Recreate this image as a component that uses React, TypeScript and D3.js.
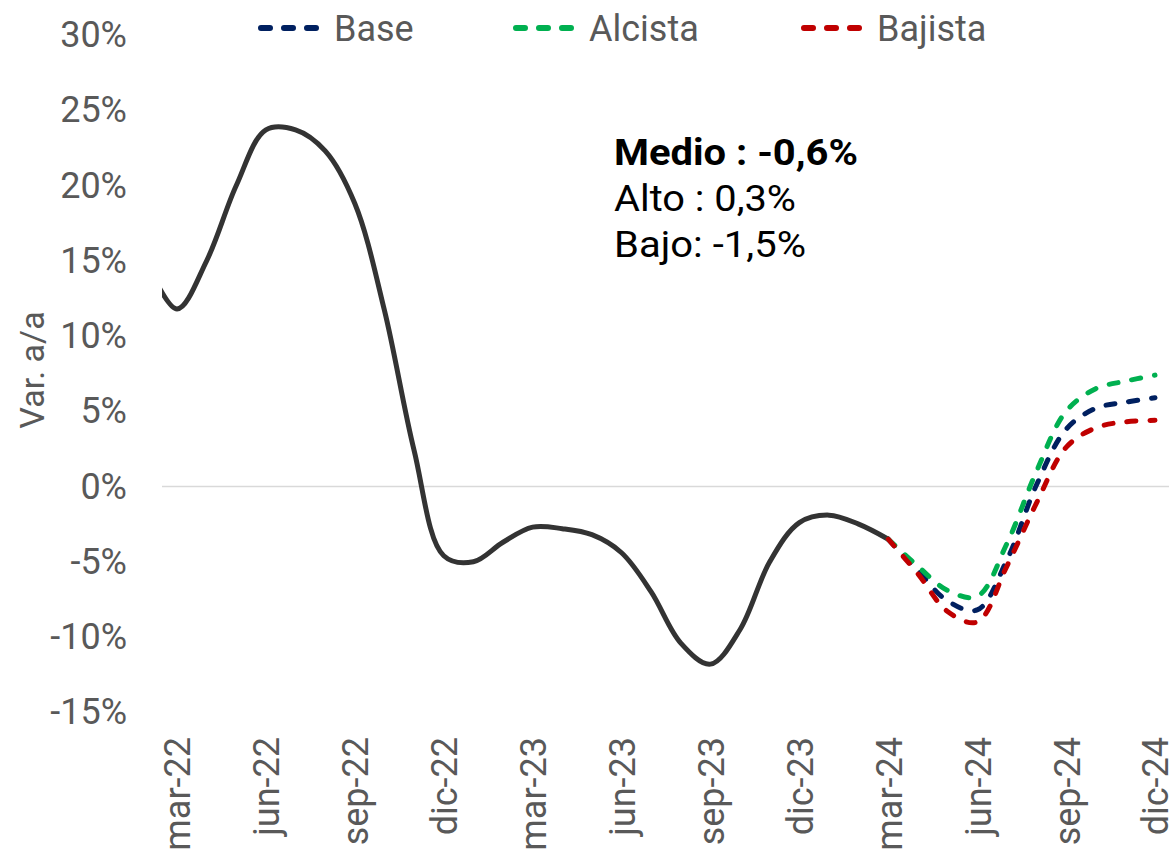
import React, { useEffect, useRef } from 'react';
import * as d3 from 'd3';

// month index 0 = mar-22 ... 33 = dic-24
const histMonths: number[] = [-1, 0, 1, 2, 3, 4, 5, 6, 7, 8, 9, 10, 11, 12, 13, 14, 15, 16, 17, 18, 19, 20, 21, 22, 23, 24];
const histValues: number[] = [14.8, 11.8, 15.0, 20.0, 23.7, 23.7, 22.3, 18.8, 11.7, 2.4, -4.6, -5.0, -3.7, -2.7, -2.8, -3.2, -4.4, -7.0, -10.4, -11.8, -9.5, -5.0, -2.4, -1.9, -2.5, -3.5];

const fcMonths: number[] = [24, 25, 26, 27, 28, 29, 30, 31, 32, 33];
const baseValues: number[] = [-3.5, -5.6, -7.6, -8.2, -4.9, 0.1, 3.8, 5.2, 5.6, 5.9];
const alcistaValues: number[] = [-3.5, -5.3, -6.9, -7.3, -3.8, 1.0, 5.0, 6.5, 7.0, 7.4];
const bajistaValues: number[] = [-3.5, -5.8, -8.3, -9.0, -5.3, -1.1, 2.6, 3.9, 4.3, 4.4];

const xTickMonths: number[] = [0, 3, 6, 9, 12, 15, 18, 21, 24, 27, 30, 33];
const xTickLabels: string[] = ['mar-22', 'jun-22', 'sep-22', 'dic-22', 'mar-23', 'jun-23', 'sep-23', 'dic-23', 'mar-24', 'jun-24', 'sep-24', 'dic-24'];
const yTicks: number[] = [-15, -10, -5, 0, 5, 10, 15, 20, 25, 30];

const seriesNames: string[] = ['Base', 'Alcista', 'Bajista'];
const seriesColors: string[] = ['#002060', '#00B050', '#C00000'];

const notesText: string[] = ['Medio : -0,6%', 'Alto : 0,3%', 'Bajo: -1,5%'];

const App: React.FC = () => {
  const chartRef = useRef<SVGSVGElement | null>(null);

  useEffect(() => {
    if (!chartRef.current) return;
    const width = 1174;
    const height = 852;
    const font = 'Roboto, sans-serif';
    const grey = '#595959';

    d3.select(chartRef.current).selectAll('*').remove();
    const svg = d3.select(chartRef.current).attr('width', width).attr('height', height);

    const x = d3.scaleLinear().domain([0, 33]).range([177, 1155]);
    const y = d3.scaleLinear().domain([-15, 30]).range([712.3, 35]);

    // clip to plot area
    svg.append('defs').append('clipPath').attr('id', 'plot-clip')
      .append('rect').attr('x', 162).attr('y', 0).attr('width', 1010).attr('height', 760);

    // zero line
    svg.append('line')
      .attr('x1', 162).attr('x2', 1169)
      .attr('y1', y(0)).attr('y2', y(0))
      .attr('stroke', '#d9d9d9').attr('stroke-width', 1.5);

    // Y axis
    const yAxis = svg.append('g')
      .attr('transform', 'translate(162,0)')
      .call(d3.axisLeft(y).tickValues(yTicks).tickFormat((d) => `${d}%`).tickSize(0).tickPadding(35));
    yAxis.select('.domain').remove();
    yAxis.selectAll('text').attr('font-family', font).attr('font-size', 36).attr('fill', grey);

    // X axis
    const xAxis = svg.append('g')
      .attr('transform', 'translate(0,737)')
      .call(d3.axisBottom(x).tickValues(xTickMonths).tickFormat((d, i) => xTickLabels[i]).tickSize(0));
    xAxis.select('.domain').remove();
    xAxis.selectAll('text')
      .attr('x', 0).attr('y', 0).attr('dy', '0.36em')
      .attr('transform', 'rotate(-90)')
      .attr('text-anchor', 'end')
      .attr('font-family', font).attr('font-size', 36).attr('fill', grey);

    // Y title
    svg.append('text')
      .attr('transform', 'translate(44,370) rotate(-90)')
      .attr('text-anchor', 'middle')
      .attr('font-family', font).attr('font-size', 34).attr('fill', grey)
      .text('Var. a/a');

    const line = d3.line<[number, number]>()
      .x((d) => x(d[0]))
      .y((d) => y(d[1]))
      .curve(d3.curveCatmullRom.alpha(0.5));

    const plot = svg.append('g').attr('clip-path', 'url(#plot-clip)');

    plot.append('path')
      .attr('d', line(histMonths.map((m, i) => [m, histValues[i]] as [number, number])))
      .attr('fill', 'none').attr('stroke', '#333333').attr('stroke-width', 5);

    const fcSeries = [baseValues, alcistaValues, bajistaValues];
    fcSeries.forEach((vals, k) => {
      plot.append('path')
        .attr('d', line(fcMonths.map((m, i) => [m, vals[i]] as [number, number])))
        .attr('fill', 'none').attr('stroke', seriesColors[k]).attr('stroke-width', 5)
        .attr('stroke-linecap', 'round').attr('stroke-dasharray', '9 14');
    });

    // Legend
    const legendX = [257, 512, 800];
    seriesNames.forEach((name, k) => {
      const g = svg.append('g').attr('transform', `translate(${legendX[k]},28)`);
      g.append('line').attr('x1', 4).attr('x2', 62).attr('y1', 0).attr('y2', 0)
        .attr('stroke', seriesColors[k]).attr('stroke-width', 6)
        .attr('stroke-linecap', 'round').attr('stroke-dasharray', '9 14');
      g.append('text').attr('x', 77).attr('dy', '0.36em')
        .attr('font-family', font).attr('font-size', 36).attr('fill', grey)
        .text(name);
    });

    // Annotation
    const noteY = [165, 211, 257];
    const noteW = [244, 182, 192];
    notesText.forEach((t, i) => {
      svg.append('text').attr('x', 614).attr('y', noteY[i])
        .attr('font-family', font).attr('font-size', 37)
        .attr('font-weight', i === 0 ? 'bold' : 'normal').attr('fill', '#000')
        .attr('textLength', noteW[i]).attr('lengthAdjust', 'spacingAndGlyphs')
        .text(t);
    });
  }, []);

  return (
    <div style={{ position: 'absolute', left: 0, top: 0, width: 1174, height: 852, background: '#fff' }}>
      <svg ref={chartRef}></svg>
    </div>
  );
};

export default App;
